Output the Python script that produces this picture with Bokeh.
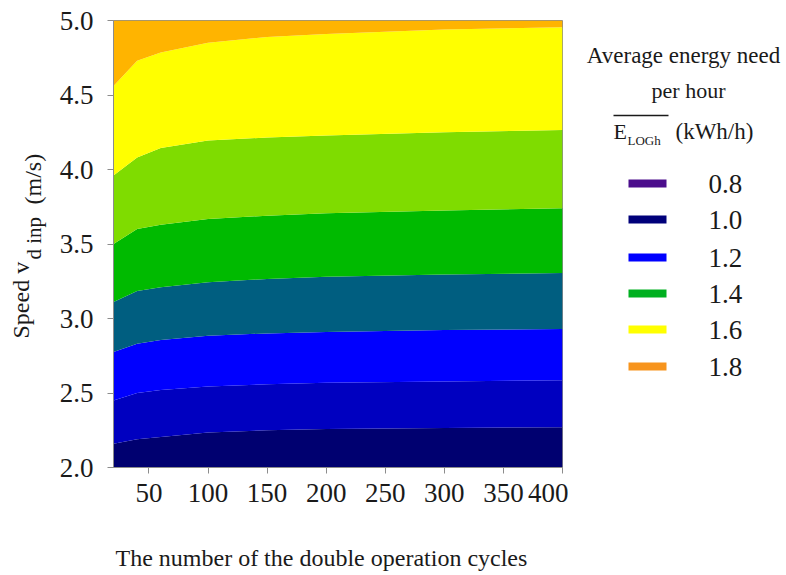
import math
from bokeh.plotting import figure
from bokeh.models import Range1d, Label, FixedTicker, PrintfTickFormatter
from bokeh.layouts import row, column
from bokeh.embed import file_html
from bokeh.resources import INLINE

# ---------------- data ----------------
cycles = [20, 40, 60, 100, 150, 200, 300, 400]

# speed (m/s) of the contour boundaries between the colour bands (bottom -> top)
bound_1 = [2.16, 2.19, 2.205, 2.235, 2.25, 2.258, 2.265, 2.27]
bound_2 = [2.45, 2.50, 2.52, 2.544, 2.558, 2.568, 2.578, 2.585]
bound_3 = [2.775, 2.83, 2.855, 2.885, 2.90, 2.91, 2.922, 2.93]
bound_4 = [3.11, 3.185, 3.21, 3.244, 3.265, 3.28, 3.295, 3.305]
bound_5 = [3.50, 3.60, 3.63, 3.668, 3.69, 3.706, 3.725, 3.74]
bound_6 = [3.96, 4.08, 4.145, 4.195, 4.215, 4.228, 4.25, 4.265]
bound_7 = [4.56, 4.73, 4.785, 4.85, 4.89, 4.91, 4.94, 4.955]

band_colors = ["#000070", "#0000C0", "#0000FF", "#005E80",
               "#00BA00", "#7FDC00", "#FFFF00", "#FFB400"]

legend_levels = ["0.8", "1.0", "1.2", "1.4", "1.6", "1.8"]
legend_colors = ["#4B0D8C", "#00007A", "#0000FF", "#00B020", "#FFFF00", "#F7941D"]

x_ticks = [50, 100, 150, 200, 250, 300, 350, 400]
y_ticks = [2.0, 2.5, 3.0, 3.5, 4.0, 4.5, 5.0]
x_min, x_max = 20, 400
y_min, y_max = 2.0, 5.0

FONT = "Liberation Serif"
TXT = "#1a1a1a"
GRAY = "#8c8c8c"

TOP_H = 530      # height of the row holding y-title, plot and legend
FR_TOP = 20      # page y of the plot frame top
FR_BOT = 467     # page y of the plot frame bottom
YLAB_W = 50
MAIN_W = 518
LEG_W = 214
XLAB_H = 41
LX = YLAB_W + MAIN_W  # page x of legend panel


def blank(width, height, top, bottom):
    # panel whose data units equal pixels; its frame spans page y top..bottom
    f = figure(width=width, height=height,
               x_range=Range1d(0, width), y_range=Range1d(0, bottom - top),
               output_backend="svg", toolbar_location=None,
               min_border_left=0, min_border_right=0,
               min_border_top=top, min_border_bottom=height - bottom,
               x_axis_location=None, y_axis_location=None)
    f.xgrid.visible = False
    f.ygrid.visible = False
    f.outline_line_color = None
    return f


def put(fig, x0, bottom, px, py, txt, size, align="left", baseline="alphabetic", angle=0.0):
    fig.add_layout(Label(x=px - x0, y=bottom - py, text=txt, angle=angle,
                         text_font=FONT, text_font_size=size, text_color=TXT,
                         text_align=align, text_baseline=baseline))


# ---------------- y axis title panel ----------------
ylab = blank(YLAB_W, TOP_H, FR_TOP, FR_BOT)
put(ylab, 0, FR_BOT, 20, 338, "Speed v", "24px", angle=math.pi / 2)
put(ylab, 0, FR_BOT, 33, 259, "d inp", "21px", angle=math.pi / 2)
put(ylab, 0, FR_BOT, 32, 204, "(m/s)", "24px", angle=math.pi / 2)

# ---------------- main plot ----------------
p = figure(width=MAIN_W, height=TOP_H, x_range=Range1d(x_min, x_max), y_range=Range1d(y_min, y_max),
           output_backend="svg", toolbar_location=None,
           min_border_left=113 - YLAB_W, min_border_right=6,
           min_border_top=FR_TOP, min_border_bottom=TOP_H - FR_BOT)
p.xgrid.visible = False
p.ygrid.visible = False
p.outline_line_color = GRAY
p.outline_line_width = 1

bottom = [y_min] * len(cycles)
top = [y_max] * len(cycles)
bounds = [bottom, bound_1, bound_2, bound_3, bound_4, bound_5, bound_6, bound_7, top]
for i, col in enumerate(band_colors):
    p.varea(x=cycles, y1=bounds[i], y2=bounds[i + 1], fill_color=col, fill_alpha=1.0)

for ax in (p.xaxis[0], p.yaxis[0]):
    ax.axis_line_color = GRAY
    ax.major_tick_line_color = GRAY
    ax.major_tick_in = 0
    ax.major_tick_out = 6
    ax.minor_tick_line_color = None
    ax.major_label_text_font = FONT
    ax.major_label_text_font_size = "27px"
    ax.major_label_text_color = TXT

p.xaxis.ticker = FixedTicker(ticks=x_ticks, minor_ticks=[])
p.yaxis.ticker = FixedTicker(ticks=y_ticks, minor_ticks=[])
p.yaxis.formatter = PrintfTickFormatter(format="%.1f")
p.xaxis.major_label_standoff = 10
p.yaxis.major_label_standoff = 14

# ---------------- legend panel ----------------
leg = blank(LEG_W, TOP_H, FR_TOP, FR_BOT)
put(leg, LX, FR_BOT, 683, 55, "Average energy need", "23px", align="center")
put(leg, LX, FR_BOT, 688, 90, "per hour", "22px", align="center")
put(leg, LX, FR_BOT, 613, 131, "E", "22px")
put(leg, LX, FR_BOT, 627, 140, "LOGh", "13px")
put(leg, LX, FR_BOT, 675, 131, "(kWh/h)", "23px")
leg.line(x=[613 - LX, 668 - LX], y=[FR_BOT - 115, FR_BOT - 115], line_color=TXT, line_width=1.3)

row_y = [183, 219, 257, 293, 329, 366]
leg.quad(left=[628 - LX] * len(row_y), right=[666 - LX] * len(row_y),
         top=[FR_BOT - yy + 4 for yy in row_y], bottom=[FR_BOT - yy - 4 for yy in row_y],
         fill_color=legend_colors, line_color=None)
for lev, yy in zip(legend_levels, row_y):
    put(leg, LX, FR_BOT, 708, yy, lev, "27px", baseline="middle")

# ---------------- x axis title panel ----------------
TOT_W = YLAB_W + MAIN_W + LEG_W
xlab = blank(TOT_W, XLAB_H, 0, XLAB_H)
put(xlab, 0, TOP_H + XLAB_H, 115, 557, "The number of the double operation cycles", "24px")

layout = column(row(ylab, p, leg), xlab)
open("out.html", "w").write(file_html(layout, INLINE))
